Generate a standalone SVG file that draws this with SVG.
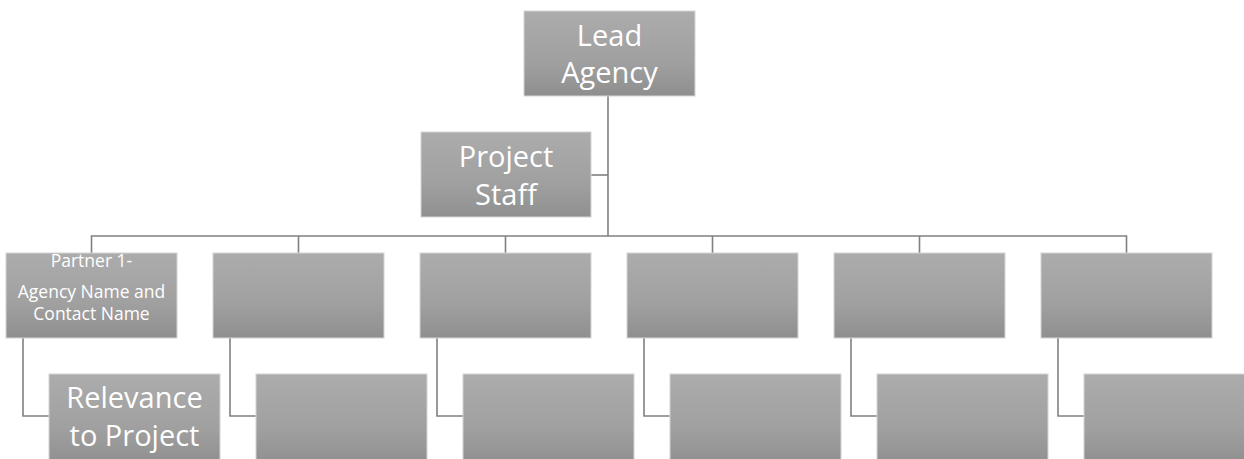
<svg xmlns="http://www.w3.org/2000/svg" width="1244" height="459" viewBox="0 0 1244 459">
<defs>
<linearGradient id="g" x1="0" y1="0" x2="0" y2="1">
<stop offset="0" stop-color="#acacac"/>
<stop offset="0.6" stop-color="#a0a0a0"/>
<stop offset="1" stop-color="#8f8f8f"/>
</linearGradient>
<style>
.box{fill:url(#g);stroke:#d4d4d4;stroke-width:1}
.t{fill:#ffffff;font-family:"Open Sans",Lato,"Liberation Sans",sans-serif;text-anchor:middle}
.big{font-size:29px}
.small{font-size:17.5px}
.c{fill:none;stroke:#808080;stroke-width:1.6}
</style>
</defs>
<rect width="1244" height="459" fill="#ffffff"/>
<g id="connectors">
<path class="c" d="M608,96 V236"/>
<path class="c" d="M591,175 H608"/>
<path class="c" d="M91.5,253 V236 H1126.5 V253"/>
<path class="c" d="M298.5,236 V253 M505.5,236 V253 M712.5,236 V253 M919.5,236 V253"/>
<path class="c" d="M23,338 V416 H49"/>
<path class="c" d="M230,338 V416 H256"/>
<path class="c" d="M437,338 V416 H463"/>
<path class="c" d="M644,338 V416 H670"/>
<path class="c" d="M851,338 V416 H877"/>
<path class="c" d="M1058,338 V416 H1084"/>
</g>
<g id="lead">
<rect class="box" x="524" y="11" width="171" height="85"/>
<text class="t big" x="609.5" y="46">Lead</text>
<text class="t big" x="609.5" y="83">Agency</text>
</g>
<g id="staff">
<rect class="box" x="421" y="132" width="170" height="85"/>
<text class="t big" x="506" y="167">Project</text>
<text class="t big" x="506" y="205">Staff</text>
</g>
<g id="p1">
<rect class="box" x="6" y="253" width="171" height="85"/>
<text class="t small" x="91.5" y="267">Partner 1-</text>
<text class="t small" x="91.5" y="298">Agency Name and</text>
<text class="t small" x="91.5" y="320">Contact Name</text>
</g>
<g id="p2"><rect class="box" x="213" y="253" width="171" height="85"/></g>
<g id="p3"><rect class="box" x="420" y="253" width="171" height="85"/></g>
<g id="p4"><rect class="box" x="627" y="253" width="171" height="85"/></g>
<g id="p5"><rect class="box" x="834" y="253" width="171" height="85"/></g>
<g id="p6"><rect class="box" x="1041" y="253" width="171" height="85"/></g>
<g id="c1">
<rect class="box" x="49" y="374" width="171" height="90"/>
<text class="t big" x="134.5" y="408">Relevance</text>
<text class="t big" x="134.5" y="446">to Project</text>
</g>
<g id="c2"><rect class="box" x="256" y="374" width="171" height="90"/></g>
<g id="c3"><rect class="box" x="463" y="374" width="171" height="90"/></g>
<g id="c4"><rect class="box" x="670" y="374" width="171" height="90"/></g>
<g id="c5"><rect class="box" x="877" y="374" width="171" height="90"/></g>
<g id="c6"><rect class="box" x="1084" y="374" width="171" height="90"/></g>
</svg>
